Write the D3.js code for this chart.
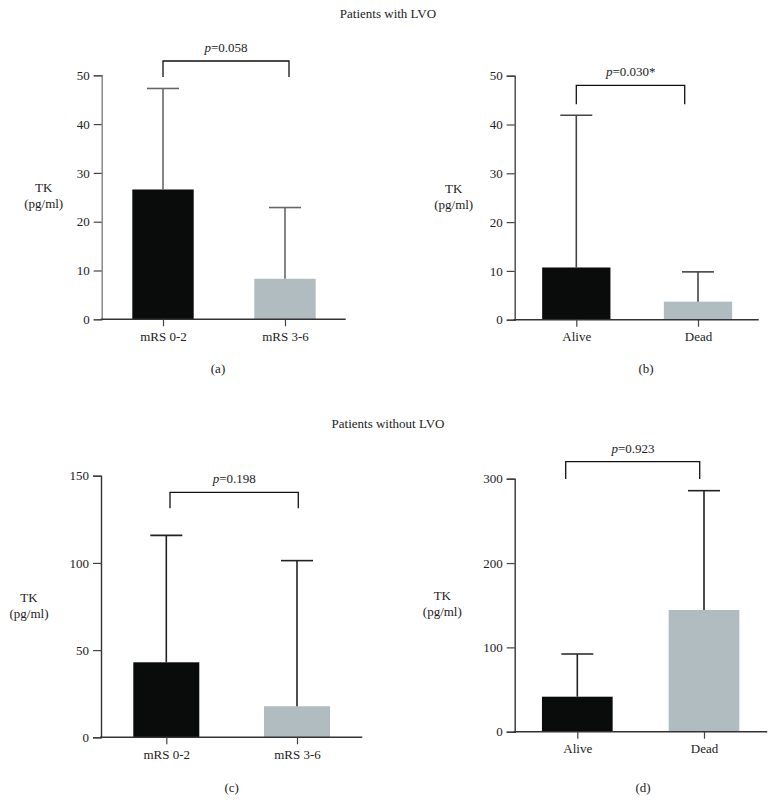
<!DOCTYPE html>
<html>
<head>
<meta charset="utf-8">
<script src="https://cdn.jsdelivr.net/npm/d3@7"></script>
<style>
  body { margin: 0; background: #fff; }
  text { font-family: "Liberation Serif", "DejaVu Serif", serif; fill: #222; }
</style>
</head>
<body>
<div id="viz"></div>
<script>
// data (mean bar + upper SD whisker)
var groupsA = ["mRS 0-2", "mRS 3-6"];
var meansA = [26.6, 8.3];
var upperA = [47.3, 22.9];
var ticksA = [0, 10, 20, 30, 40, 50];
var pA = "=0.058";

var groupsB = ["Alive", "Dead"];
var meansB = [10.7, 3.7];
var upperB = [41.9, 9.8];
var ticksB = [0, 10, 20, 30, 40, 50];
var pB = "=0.030*";

var groupsC = ["mRS 0-2", "mRS 3-6"];
var meansC = [43.0, 17.8];
var upperC = [115.8, 101.3];
var ticksC = [0, 50, 100, 150];
var pC = "=0.198";

var groupsD = ["Alive", "Dead"];
var meansD = [41.5, 144.3];
var upperD = [92.1, 285.8];
var ticksD = [0, 100, 200, 300];
var pD = "=0.923";

var barColors = ["#0a0b0b", "#b0bcc0"];

var width = 776, height = 803;

var svg = d3.select("#viz")
  .append("svg")
    .attr("width", width)
    .attr("height", height);

// titles
svg.append("text").attr("x", 388).attr("y", 18).attr("text-anchor", "middle")
  .style("font-size", "13px").text("Patients with LVO");
svg.append("text").attr("x", 388).attr("y", 428).attr("text-anchor", "middle")
  .style("font-size", "13px").text("Patients without LVO");

// layout for each panel (pixels)
var panels = [
  {groups: groupsA, means: meansA, upper: upperA, ticks: ticksA, p: pA, letter: "(a)",
   ax: 101.7, axEnd: 345.7, c: [163, 285], bw: 61.4, y0: 319.3, yTop: 75.3,
   lx: 43.7, ly: 192, bx: [163, 289], bTop: 61, bDrop: 77, pLabel: [226, 52],
   letterPos: [218, 373], yAxisColor: "#808080", errColor: "#666"},
  {groups: groupsB, means: meansB, upper: upperB, ticks: ticksB, p: pB, letter: "(b)",
   ax: 514.7, axEnd: 758.7, c: [576.3, 698], bw: 68.3, y0: 319.7, yTop: 75.7,
   lx: 453.7, ly: 193, bx: [576.3, 684.7], bTop: 85.3, bDrop: 104.3, pLabel: [630.7, 76],
   letterPos: [646, 373], yAxisColor: "#444", errColor: "#444"},
  {groups: groupsC, means: meansC, upper: upperC, ticks: ticksC, p: pC, letter: "(c)",
   ax: 101, axEnd: 362.3, c: [166.3, 297], bw: 66, y0: 737.3, yTop: 475.7,
   lx: 29, ly: 601.7, bx: [170, 298.3], bTop: 492.3, bDrop: 508.3, pLabel: [234.3, 482.7],
   letterPos: [231.7, 791.7], yAxisColor: "#333", errColor: "#222"},
  {groups: groupsD, means: meansD, upper: upperD, ticks: ticksD, p: pD, letter: "(d)",
   ax: 514.7, axEnd: 767.3, c: [577.3, 704], bw: 70.7, y0: 731.7, yTop: 478.7,
   lx: 442.3, ly: 600, bx: [565.7, 699.7], bTop: 461.7, bDrop: 479, pLabel: [633, 453.3],
   letterPos: [643, 791.7], yAxisColor: "#333", errColor: "#222"}
];

panels.forEach(function(P) {
  var g = svg.append("g");
  var yMax = P.ticks[P.ticks.length - 1];

  var y = d3.scaleLinear().domain([0, yMax]).range([P.y0, P.yTop]);
  var x = d3.scalePoint().domain(P.groups).range(P.c);

  // y axis
  var yAxis = g.append("g")
    .attr("transform", "translate(" + P.ax + ",0)")
    .call(d3.axisLeft(y).tickValues(P.ticks).tickSize(8).tickPadding(4).tickFormat(d3.format("d")));
  yAxis.select(".domain").attr("stroke", P.yAxisColor).attr("stroke-width", 1.4);
  yAxis.selectAll(".tick line").attr("stroke", "#444").attr("stroke-width", 1.2);
  yAxis.selectAll(".tick text").style("font-size", "13px").style("font-family", "Liberation Serif").attr("fill", "#222");

  // bars
  g.selectAll("rect.bar")
    .data(P.means)
    .enter()
    .append("rect")
      .attr("class", "bar")
      .attr("x", function(d, i) { return x(P.groups[i]) - P.bw / 2; })
      .attr("y", function(d) { return y(d); })
      .attr("width", P.bw)
      .attr("height", function(d) { return y(0) - y(d); })
      .style("fill", function(d, i) { return barColors[i]; });

  // error bars (upper only)
  P.upper.forEach(function(u, i) {
    var cx = x(P.groups[i]);
    g.append("line")
      .attr("x1", cx).attr("x2", cx)
      .attr("y1", y(P.means[i])).attr("y2", y(u))
      .style("stroke", P.errColor).style("stroke-width", 1.6);
    g.append("line")
      .attr("x1", cx - 16).attr("x2", cx + 16)
      .attr("y1", y(u)).attr("y2", y(u))
      .style("stroke", P.errColor).style("stroke-width", 1.6);
  });

  // x axis
  var xAxis = g.append("g")
    .attr("transform", "translate(0," + P.y0 + ")")
    .call(d3.axisBottom(x).tickSize(7).tickPadding(5));
  xAxis.select(".domain").attr("d", "M" + (P.ax - 1) + ",0H" + P.axEnd)
    .attr("stroke", "#333").attr("stroke-width", 1.4);
  xAxis.selectAll(".tick line").attr("stroke", "#444").attr("stroke-width", 1.2);
  xAxis.selectAll(".tick text").style("font-size", "13px").style("font-family", "Liberation Serif").attr("fill", "#222");

  // y label
  var yl = g.append("text").attr("text-anchor", "middle").style("font-size", "13px");
  yl.append("tspan").attr("x", P.lx).attr("y", P.ly).text("TK");
  yl.append("tspan").attr("x", P.lx).attr("y", P.ly + 16).text("(pg/ml)");

  // significance bracket
  g.append("path")
    .attr("d", "M" + P.bx[0] + "," + P.bDrop + "V" + P.bTop + "H" + P.bx[1] + "V" + P.bDrop)
    .style("fill", "none").style("stroke", "#111").style("stroke-width", 1.3);

  var pt = g.append("text").attr("x", P.pLabel[0]).attr("y", P.pLabel[1])
    .attr("text-anchor", "middle").style("font-size", "13px");
  pt.append("tspan").style("font-style", "italic").text("p");
  pt.append("tspan").text(P.p);

  // panel letter
  g.append("text").attr("x", P.letterPos[0]).attr("y", P.letterPos[1])
    .attr("text-anchor", "middle").style("font-size", "13px").text(P.letter);
});
</script>
</body>
</html>
